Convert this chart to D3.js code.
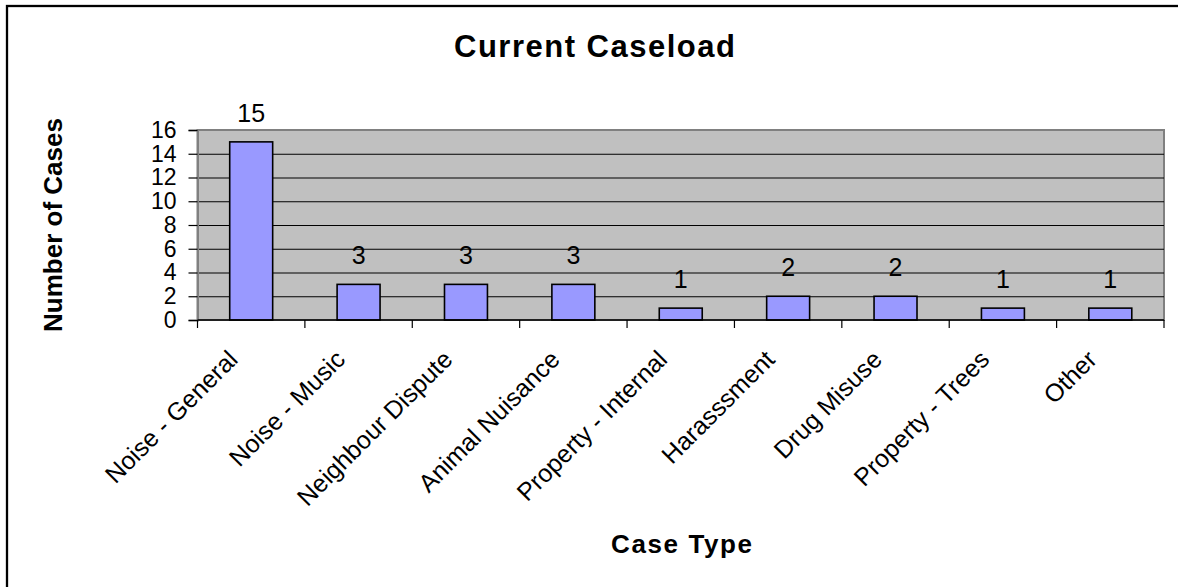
<!DOCTYPE html>
<html>
<head>
<meta charset="utf-8">
<script src="https://cdn.jsdelivr.net/npm/d3@7"></script>
<style>
  html, body { margin: 0; padding: 0; background: #fff; overflow: hidden; }
  svg { display: block; font-family: "Liberation Sans", Arial, sans-serif; }
</style>
</head>
<body>
<svg id="chart" width="1178" height="587"></svg>
<script>
// Caseload by case type
const categories = [
  "Noise - General", "Noise - Music", "Neighbour Dispute", "Animal Nuisance",
  "Property - Internal", "Harasssment", "Drug Misuse", "Property - Trees", "Other"
];
const caseCounts = [15, 3, 3, 3, 1, 2, 2, 1, 1];
const yTicks = [0, 2, 4, 6, 8, 10, 12, 14, 16];

const chartTitle = "Current Caseload";
const xTitle = "Case Type";
const yTitle = "Number of Cases";

const svg = d3.select("#chart");
const W = 1178, H = 587;

// plot area
const plot = { left: 197.5, top: 130, right: 1164, bottom: 320 };
const pw = plot.right - plot.left, ph = plot.bottom - plot.top;

// outer chart frame (runs past the right and bottom edges)
svg.append("rect")
  .attr("x", 7).attr("y", 6)
  .attr("width", W + 40).attr("height", H + 40)
  .attr("fill", "#fff").attr("stroke", "#000").attr("stroke-width", 2.3);

const x = d3.scaleBand().domain(categories).range([0, pw])
  .paddingInner(0.6).paddingOuter(0.3);
const xCat = d3.scaleBand().domain(categories).range([0, pw]).padding(0);
const y = d3.scaleLinear().domain([0, 16]).range([ph, 0]);

const g = svg.append("g").attr("transform", `translate(${plot.left},${plot.top})`);

// background
g.append("rect").attr("width", pw).attr("height", ph)
  .attr("fill", "#c0c0c0").attr("stroke", "#808080").attr("stroke-width", 2);

// gridlines
g.append("g")
  .call(d3.axisLeft(y).tickValues(yTicks.filter(v => v > 0 && v < 16)).tickSize(-pw).tickFormat(""))
  .call(s => s.select(".domain").remove())
  .call(s => s.selectAll("line").attr("stroke", "#000").attr("stroke-width", 1.2));

// bars
g.selectAll("rect.bar").data(caseCounts).enter().append("rect")
  .attr("class", "bar")
  .attr("x", (d, i) => x(categories[i]))
  .attr("width", x.bandwidth())
  .attr("y", d => y(d))
  .attr("height", d => y(0) - y(d))
  .attr("fill", "#9999ff").attr("stroke", "#000").attr("stroke-width", 1.6);

// value labels
g.selectAll("text.val").data(caseCounts).enter().append("text")
  .attr("class", "val")
  .attr("x", (d, i) => x(categories[i]) + x.bandwidth() / 2)
  .attr("y", d => y(d) - 20)
  .attr("text-anchor", "middle")
  .attr("font-size", 25).attr("fill", "#000")
  .text(d => d);

// y axis
const yAxis = g.append("g")
  .call(d3.axisLeft(y).tickValues(yTicks).tickSize(9).tickPadding(12));
yAxis.select(".domain").attr("stroke", "#808080").attr("stroke-width", 2);
yAxis.selectAll(".tick line").attr("stroke", "#000").attr("stroke-width", 1.2);
yAxis.selectAll(".tick text").attr("font-size", 23).attr("fill", "#000")
  .attr("font-family", "Liberation Sans, Arial, sans-serif");

// x axis line and boundary ticks
const xAxis = g.append("g").attr("transform", `translate(0,${ph})`);
xAxis.append("line").attr("x1", 0).attr("x2", pw)
  .attr("stroke", "#000").attr("stroke-width", 1.6);
const bounds = categories.map(c => xCat(c)).concat([pw]);
xAxis.selectAll("line.tk").data(bounds).enter().append("line")
  .attr("class", "tk")
  .attr("x1", d => d).attr("x2", d => d)
  .attr("y1", 0).attr("y2", 8)
  .attr("stroke", "#000").attr("stroke-width", 1.2);

// rotated category labels
xAxis.selectAll("text.cat").data(categories).enter().append("text")
  .attr("class", "cat")
  .attr("transform", c => `translate(${xCat(c) + xCat.bandwidth() / 2 - 12},${41}) rotate(-45)`)
  .attr("text-anchor", "end")
  .attr("font-size", 25).attr("fill", "#000")
  .text(c => c);

// titles
svg.append("text")
  .attr("x", 454).attr("y", 57)
  .attr("font-size", 31).attr("font-weight", "bold").attr("letter-spacing", 1.5)
  .text(chartTitle);

svg.append("text")
  .attr("x", 611).attr("y", 553)
  .attr("font-size", 26).attr("font-weight", "bold").attr("letter-spacing", 1.6)
  .text(xTitle);

svg.append("text")
  .attr("transform", `translate(62,${(plot.top + plot.bottom) / 2}) rotate(-90)`)
  .attr("text-anchor", "middle")
  .attr("font-size", 26).attr("font-weight", "bold")
  .text(yTitle);
</script>
</body>
</html>
